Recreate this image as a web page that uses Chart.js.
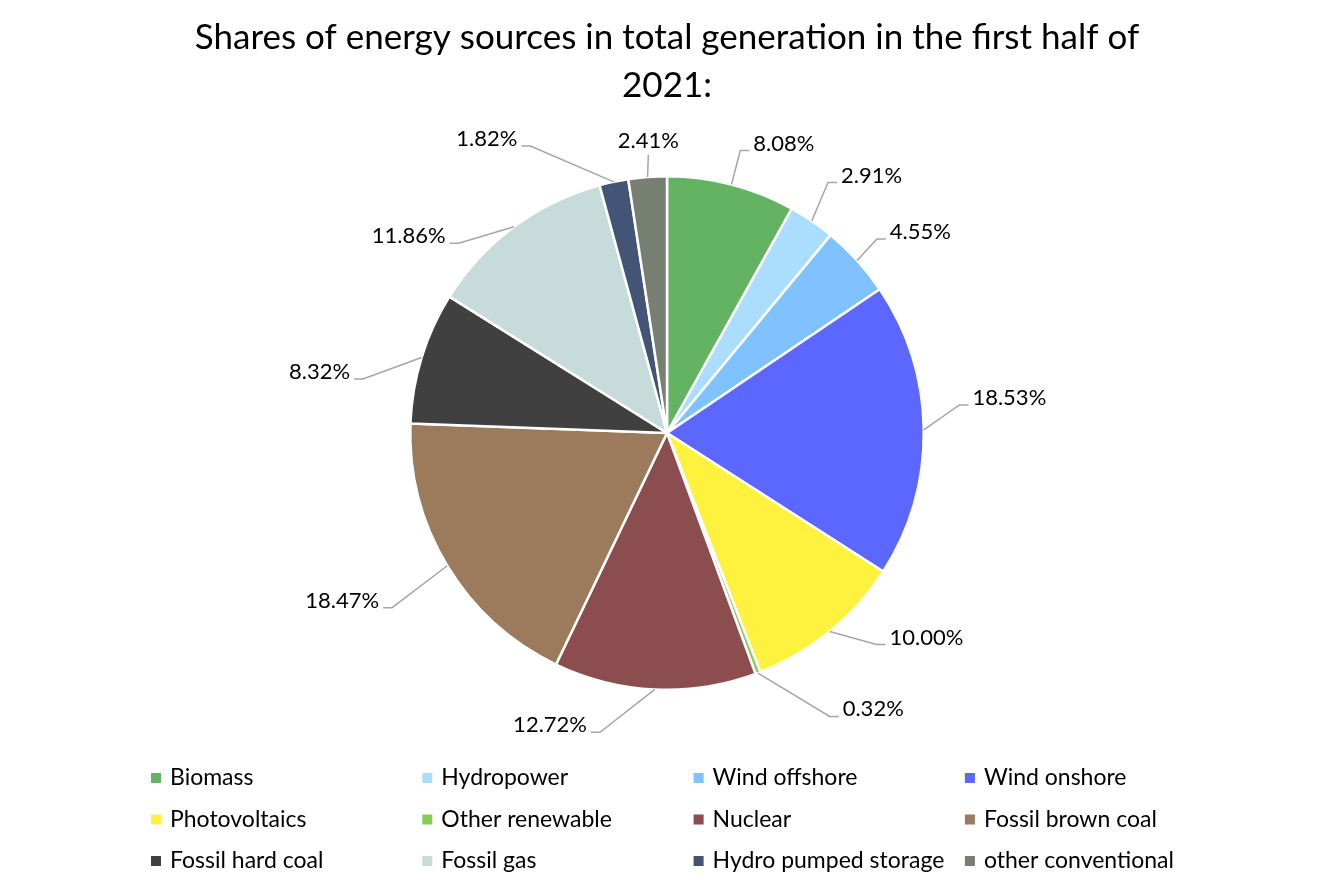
<!DOCTYPE html>
<html>
<head>
<meta charset="utf-8">
<script src="https://cdn.jsdelivr.net/npm/chart.js@4.4.1/dist/chart.umd.min.js"></script>
<style>
  html, body { margin: 0; padding: 0; background: #fff; }
  #wrap { width: 1334px; height: 889px; position: relative; }
</style>
</head>
<body>
<div id="wrap"><canvas id="energyPie"></canvas></div>
<script>
// data
const sources = [
  'Biomass', 'Hydropower', 'Wind offshore', 'Wind onshore',
  'Photovoltaics', 'Other renewable', 'Nuclear', 'Fossil brown coal',
  'Fossil hard coal', 'Fossil gas', 'Hydro pumped storage', 'other conventional'
];
const shares = [8.08, 2.91, 4.55, 18.53, 10.00, 0.32, 12.72, 18.47, 8.32, 11.86, 1.82, 2.41];
const sliceColors = [
  '#63b363', '#aaddff', '#80c2ff', '#5b67ff',
  '#fff23f', '#86cc55', '#8c4d4e', '#9b7b5b',
  '#404040', '#c6dbda', '#445477', '#767f72'
];

// leader-line layout: elbow turned by this many degrees off the slice middle,
// and pushed this many px beyond the rim (mimics Excel's best-fit placement)
const leaderShift = [0, -1.6, -0.5, -4.8, -5.4, -9.1, 9.9, -1.3, -7.0, -11.1, -13.5, 0.5];
const leaderReach = [35, 41, 29, 37, 41, 70, 50, 69, 52, 25, 61, 22];

const FONT = 'Lato, "Open Sans", sans-serif';
const LABEL_FONT = '22px ' + FONT;
const LEGEND_FONT = '23px ' + FONT;

// percentage labels with grey leader lines
const sliceLabels = {
  id: 'sliceLabels',
  afterDatasetsDraw(chart) {
    const ctx = chart.ctx;
    const arcs = chart.getDatasetMeta(0).data;
    ctx.save();
    ctx.font = LABEL_FONT;
    ctx.fillStyle = '#000';
    ctx.strokeStyle = '#a6a6a6';
    ctx.lineWidth = 1.5;
    arcs.forEach((arc, i) => {
      const p = arc.getProps(['x', 'y', 'startAngle', 'endAngle', 'outerRadius'], true);
      const mid = (p.startAngle + p.endAngle) / 2;
      const sx = p.x + p.outerRadius * Math.cos(mid);
      const sy = p.y + p.outerRadius * Math.sin(mid);
      const a = mid + leaderShift[i] * Math.PI / 180;
      const rr = p.outerRadius + leaderReach[i];
      const ex = p.x + rr * Math.cos(a);
      const ey = p.y + rr * Math.sin(a);
      const txt = shares[i].toFixed(2) + '%';

      ctx.beginPath();
      ctx.moveTo(sx, sy);
      ctx.lineTo(ex, ey);
      if (Math.abs(ex - p.x) < 25 && ey < p.y) {
        // label sits straight above the slice
        ctx.stroke();
        ctx.textAlign = 'center';
        ctx.textBaseline = 'middle';
        ctx.fillText(txt, ex, ey - 14);
      } else {
        const dir = ex >= p.x ? 1 : -1;
        const hx = ex + dir * 9;
        ctx.lineTo(hx, ey);
        ctx.stroke();
        ctx.textAlign = dir > 0 ? 'left' : 'right';
        ctx.textBaseline = 'middle';
        ctx.fillText(txt, hx + dir * 4, ey - 7);
      }
    });
    ctx.restore();
  }
};

// 4-column legend grid like the Excel one
const gridLegend = {
  id: 'gridLegend',
  afterDraw(chart) {
    const ctx = chart.ctx;
    const colW = 271.3, rowH = 41.5;
    const left = 151, top = 778;
    ctx.save();
    ctx.font = LEGEND_FONT;
    ctx.textAlign = 'left';
    ctx.textBaseline = 'middle';
    sources.forEach((name, i) => {
      const bx = left + (i % 4) * colW;
      const by = top + Math.floor(i / 4) * rowH;
      ctx.fillStyle = sliceColors[i];
      ctx.fillRect(bx, by - 5, 10, 10);
      ctx.fillStyle = '#000';
      ctx.fillText(name, bx + 19, by);
    });
    ctx.restore();
  }
};

new Chart(document.getElementById('energyPie'), {
  type: 'pie',
  data: {
    labels: sources,
    datasets: [{
      data: shares,
      backgroundColor: sliceColors,
      borderColor: '#ffffff',
      borderWidth: 2.5,
      hoverOffset: 0
    }]
  },
  options: {
    responsive: true,
    maintainAspectRatio: false,
    animation: false,
    devicePixelRatio: 1,
    layout: { padding: { top: 0, bottom: 198, left: 0, right: 0 } },
    plugins: {
      legend: { display: false },
      tooltip: { enabled: false },
      title: {
        display: true,
        text: ['Shares of energy sources in total generation in the first half of', '2021:'],
        color: '#000',
        font: { family: FONT, size: 35, weight: 'normal', lineHeight: 48 / 35 },
        padding: { top: 14, bottom: 65 }
      }
    }
  },
  plugins: [sliceLabels, gridLegend]
});
</script>
</body>
</html>
